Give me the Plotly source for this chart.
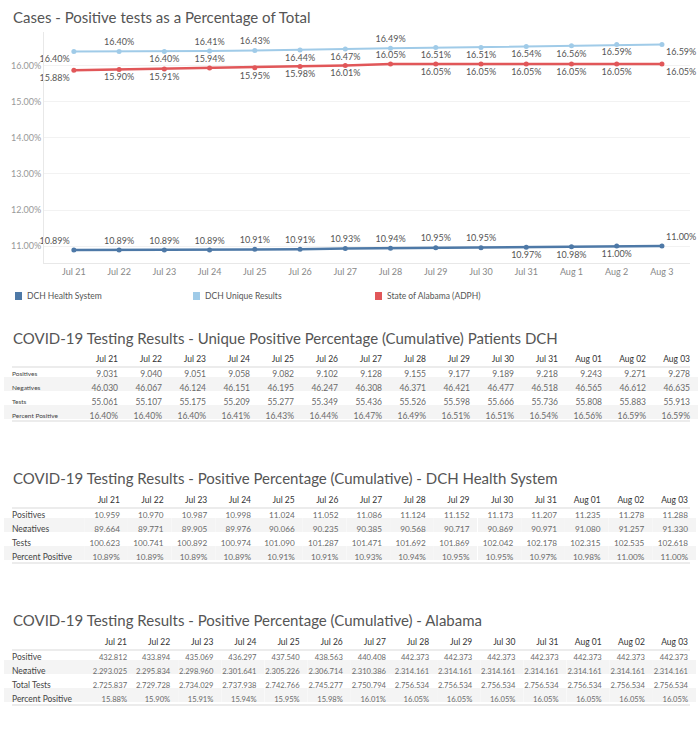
import plotly.graph_objects as go

W, H = 700, 741

# ---------------- data ----------------
chart_dates = ["Jul 21", "Jul 22", "Jul 23", "Jul 24", "Jul 25", "Jul 26", "Jul 27",
               "Jul 28", "Jul 29", "Jul 30", "Jul 31", "Aug 1", "Aug 2", "Aug 3"]
table_dates = ["Jul 21", "Jul 22", "Jul 23", "Jul 24", "Jul 25", "Jul 26", "Jul 27",
               "Jul 28", "Jul 29", "Jul 30", "Jul 31", "Aug 01", "Aug 02", "Aug 03"]
y_ticks = [11, 12, 13, 14, 15, 16]

dch_pct = [10.89, 10.89, 10.89, 10.89, 10.91, 10.91, 10.93, 10.94, 10.95, 10.95,
           10.97, 10.98, 11.00, 11.00]
unique_pct = [16.40, 16.40, 16.40, 16.41, 16.43, 16.44, 16.47, 16.49, 16.51, 16.51,
              16.54, 16.56, 16.59, 16.59]
alabama_pct = [15.88, 15.90, 15.91, 15.94, 15.95, 15.98, 16.01, 16.05, 16.05, 16.05,
               16.05, 16.05, 16.05, 16.05]

unique_positives = [9031, 9040, 9051, 9058, 9082, 9102, 9128, 9155, 9177, 9189,
                    9218, 9243, 9271, 9278]
unique_negatives = [46030, 46067, 46124, 46151, 46195, 46247, 46308, 46371, 46421,
                    46477, 46518, 46565, 46612, 46635]
unique_tests = [55061, 55107, 55175, 55209, 55277, 55349, 55436, 55526, 55598,
                55666, 55736, 55808, 55883, 55913]

dch_positives = [10959, 10970, 10987, 10998, 11024, 11052, 11086, 11124, 11152,
                 11173, 11207, 11235, 11278, 11288]
dch_negatives = [89664, 89771, 89905, 89976, 90066, 90235, 90385, 90568, 90717,
                 90869, 90971, 91080, 91257, 91330]
dch_tests = [100623, 100741, 100892, 100974, 101090, 101287, 101471, 101692,
             101869, 102042, 102178, 102315, 102535, 102618]

al_positive = [432812, 433894, 435069, 436297, 437540, 438563, 440408, 442373,
               442373, 442373, 442373, 442373, 442373, 442373]
al_negative = [2293025, 2295834, 2298960, 2301641, 2305226, 2306714, 2310386,
               2314161, 2314161, 2314161, 2314161, 2314161, 2314161, 2314161]
al_total = [2725837, 2729728, 2734029, 2737938, 2742766, 2745277, 2750794,
            2756534, 2756534, 2756534, 2756534, 2756534, 2756534, 2756534]

series_names = ["DCH Health System", "DCH Unique Results", "State of Alabama (ADPH)"]

# ---------------- styles ----------------
FONT = "Lato"
C_DCH = "#4e79a7"
C_UNI = "#a0cbe8"
C_AL = "#e15759"
TXT = "#555555"

pos_dch = ["top left"] + ["top center"] * 9 + ["bottom center"] * 3 + ["top right"]
pos_uni = ["bottom left", "top center", "bottom center", "top center", "top center",
           "bottom center", "bottom center", "top center", "bottom center",
           "bottom center", "bottom center", "bottom center", "bottom center",
           "bottom right"]
pos_al = ["bottom left", "bottom center", "bottom center", "top center",
          "bottom center", "bottom center", "bottom center", "top center",
          "bottom center", "bottom center", "bottom center", "bottom center",
          "bottom center", "bottom right"]


def px_x(p):
    return p / W


def px_y(p):
    return 1 - p / H


fig = go.Figure()

for vals, color, pos, name, lw in [
    (unique_pct, C_UNI, pos_uni, series_names[1], 2),
    (alabama_pct, C_AL, pos_al, series_names[2], 2.5),
    (dch_pct, C_DCH, pos_dch, series_names[0], 2.5),
]:
    fig.add_trace(go.Scatter(
        x=chart_dates, y=vals, mode="lines+markers+text", name=name,
        line=dict(color=color, width=lw), marker=dict(color=color, size=5),
        text=[f"{v:.2f}%" for v in vals], textposition=pos,
        textfont=dict(family=FONT, size=9, color=TXT),
        cliponaxis=False, showlegend=False, hoverinfo="skip",
        xaxis="x", yaxis="y",
    ))

fig.update_layout(
    xaxis=dict(domain=[px_x(44), px_x(690)], type="category",
               range=[-0.66, 13.62], showgrid=False, ticks="",
               tickfont=dict(family=FONT, size=9, color="#888"),
               showline=True, linecolor="#e8e8e8", zeroline=False, fixedrange=True,
               automargin=False),
    yaxis=dict(domain=[px_y(263), px_y(32)], range=[10.53, 16.94],
               tickvals=y_ticks, ticktext=[f"{t:.2f}%" for t in y_ticks],
               tickfont=dict(family=FONT, size=9, color="#999"),
               showgrid=True, gridcolor="#f2f2f2", showline=True, linecolor="#e8e8e8",
               zeroline=False, ticks="", fixedrange=True, automargin=False),
)


# ---------------- tables ----------------
NB = "\u00a0"


def make_table(labels, rows, fmts, top, bottom, label_size, val_size, x0, x1, first_w, col_w):
    cols = [labels]
    for j in range(len(table_dates)):
        cols.append([f(r[j]) for r, f in zip(rows, fmts)])
    row_fill = ["#ffffff", "#f4f4f4", "#ffffff", "#f4f4f4"]
    fill = [row_fill] * len(cols)
    fig.add_trace(go.Table(
        domain=dict(x=[px_x(x0), px_x(x1)], y=[px_y(bottom), px_y(top)]),
        columnwidth=[first_w] + [col_w] * len(table_dates),
        header=dict(values=[""] + [d.replace(" ", NB) for d in table_dates],
                    align=["left"] + ["right"] * len(table_dates),
                    fill=dict(color="#ffffff"),
                    line=dict(color="#ffffff", width=0),
                    font=dict(family=FONT, size=8.5, color="#333"), height=15),
        cells=dict(values=[[str(v).replace(" ", NB) for v in c] for c in cols],
                   align=["left"] + ["right"] * len(table_dates),
                   fill=dict(color=fill),
                   line=dict(color=fill, width=0),
                   font=dict(family=FONT, size=[label_size] + [val_size] * len(table_dates),
                             color=["#444"] + ["#6a6a6a"] * len(table_dates)),
                   height=14),
    ))


fmt_int = lambda v: f"{v:,}"
fmt_pct = lambda v: f"{v:.2f}%"

make_table(["Positives", "Negatives", "Tests", "Percent Positive"],
           [unique_positives, unique_negatives, unique_tests, unique_pct],
           [fmt_int, fmt_int, fmt_int, fmt_pct], 348, 445, 6.5, 8.5, 4, 698, 78, 44)
make_table(["Positives", "Negatives", "Tests", "Percent Positive"],
           [dch_positives, dch_negatives, dch_tests, dch_pct],
           [fmt_int, fmt_int, fmt_int, fmt_pct], 489, 590, 8.5, 8.2, 4, 696, 80.2, 43.7)
make_table(["Positive", "Negative", "Total Tests", "Percent Positive"],
           [al_positive, al_negative, al_total, alabama_pct],
           [fmt_int, fmt_int, fmt_int, fmt_pct], 631, 730, 8.5, 7.6, 4, 696, 87.9, 43.15)

shapes = []
for yline in [367, 421, 508, 563, 650, 705]:
    shapes.append(dict(type="line", xref="paper", yref="paper",
                       x0=px_x(12), x1=px_x(690), y0=px_y(yline), y1=px_y(yline),
                       line=dict(color="#d9d9d9", width=1)))

annotations = []
# titles
for txt, yc in [("Cases - Positive tests as a Percentage of Total", 17),
                ("COVID-19 Testing Results - Unique Positive Percentage (Cumulative) Patients DCH", 338),
                ("COVID-19 Testing Results - Positive Percentage (Cumulative) - DCH Health System", 478),
                ("COVID-19 Testing Results - Positive Percentage (Cumulative) - Alabama", 620)]:
    annotations.append(dict(text=txt, x=px_x(11), y=px_y(yc), xref="paper", yref="paper",
                            xanchor="left", yanchor="middle", showarrow=False,
                            font=dict(family=FONT, size=15, color="#555")))

# legend
for name, color, xs in zip(series_names, [C_DCH, C_UNI, C_AL], [15, 193, 375]):
    shapes.append(dict(type="rect", xref="paper", yref="paper",
                       x0=px_x(xs), x1=px_x(xs + 7), y0=px_y(300), y1=px_y(292),
                       fillcolor=color, line=dict(width=0)))
    annotations.append(dict(text=name, x=px_x(xs + 10), y=px_y(296.5), xref="paper",
                            yref="paper", xanchor="left", yanchor="middle",
                            showarrow=False, font=dict(family=FONT, size=8.5, color=TXT)))

fig.update_layout(
    width=W, height=H, margin=dict(l=0, r=0, t=0, b=0, autoexpand=False),
    paper_bgcolor="white", plot_bgcolor="white",
    shapes=shapes, annotations=annotations, showlegend=False,
    font=dict(family=FONT),
)

fig.write_html("out.html", config={"displayModeBar": False},
               post_script="document.body.style.margin='0px';document.body.style.overflow='hidden';")
